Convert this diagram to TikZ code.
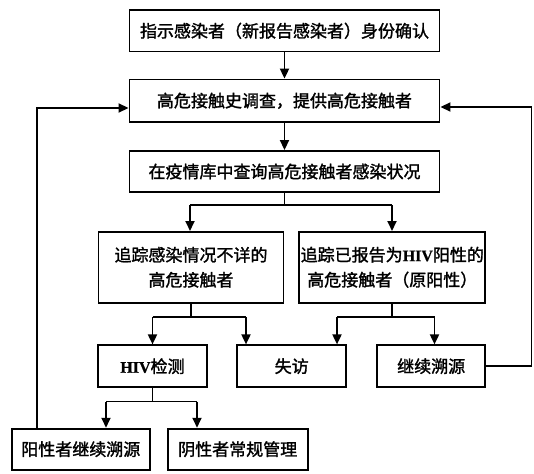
\documentclass[tikz,border=0pt]{standalone}
\usepackage{fontspec}
\usetikzlibrary{arrows.meta}
\newfontfamily\cjk{Noto Sans CJK SC}[FakeBold=1.6]
\newfontfamily\lat{Liberation Serif}[FakeBold=0.6]
\newcommand{\hiv}{{\lat\bfseries\fontsize{16}{16}\selectfont HIV}}
\tikzset{
  box/.style={draw, line width=1.9pt, rectangle, inner sep=0pt, align=center,
    font=\cjk\fontsize{17}{25}\selectfont},
  conn/.style={line width=1.8pt},
  arr/.style={line width=1.8pt, -{Triangle[length=10pt,width=9pt]}}
}
\begin{document}
\begin{tikzpicture}[x=1pt,y=-1pt]
\useasboundingbox (0,0) rectangle (534,473);
\node[box, minimum width=310pt, minimum height=41.5pt] (b1) at (284.5,30.8) {指示感染者（新报告感染者）身份确认};
\node[box, minimum width=310pt, minimum height=42.5pt] (b2) at (284.5,100.8) {高危接触史调查，提供高危接触者};
\node[box, minimum width=310pt, minimum height=41pt] (b3) at (284.5,171.5) {在疫情库中查询高危接触者感染状况};
\node[box, minimum width=185pt, minimum height=70.7pt] (b4l) at (191,267.3) {追踪感染情况不详的\\高危接触者};
\node[box, minimum width=186pt, minimum height=70.7pt] (b4r) at (392.3,267.3) {追踪已报告为\hiv 阳性的\\高危接触者（原阳性）};
\node[box, minimum width=108.4pt, minimum height=41.7pt] (b5a) at (152.5,366.2) {\hiv 检测};
\node[box, minimum width=108.7pt, minimum height=41.7pt] (b5b) at (291.7,366.2) {失访};
\node[box, minimum width=108.3pt, minimum height=41.7pt] (b5c) at (431.2,366.2) {继续溯源};
\node[box, minimum width=138.3pt, minimum height=41pt] (b6a) at (80.8,449.2) {阳性者继续溯源};
\node[box, minimum width=140pt, minimum height=41pt] (b6b) at (237.7,449.2) {阴性者常规管理};
% main chain
\draw[arr] (b1.south) -- (b2.north);
\draw[arr] (b2.south) -- (b3.north);
% split from b3
\coordinate (s3) at (284.5,205);
\coordinate (s3l) at (190,205);
\coordinate (s3r) at (392,205);
\draw[conn] (b3.south) -- (s3);
\draw[conn] (s3l) -- (s3r);
\draw[arr] (s3l) -- (s3l |- b4l.north);
\draw[arr] (s3r) -- (s3r |- b4r.north);
% split from b4l
\coordinate (s4l) at (191,317);
\coordinate (s4la) at (152.5,317);
\coordinate (s4lb) at (246,317);
\draw[conn] (b4l.south) -- (s4l);
\draw[conn] (s4la) -- (s4lb);
\draw[arr] (s4la) -- (s4la |- b5a.north);
\draw[arr] (s4lb) -- (s4lb |- b5b.north);
% split from b4r
\coordinate (s4r) at (392.3,317);
\coordinate (s4ra) at (337,317);
\coordinate (s4rb) at (434.5,317);
\draw[conn] (b4r.south) -- (s4r);
\draw[conn] (s4ra) -- (s4rb);
\draw[arr] (s4ra) -- (s4ra |- b5b.north);
\draw[arr] (s4rb) -- (s4rb |- b5c.north);
% split from b5a
\coordinate (s5) at (152.5,401.5);
\coordinate (s5a) at (106,401.5);
\coordinate (s5b) at (197,401.5);
\draw[conn] (b5a.south) -- (s5);
\draw[conn] (s5a) -- (s5b);
\draw[arr] (s5a) -- (s5a |- b6a.north);
\draw[arr] (s5b) -- (s5b |- b6b.north);
% feedback loops
\coordinate (rt) at (531.5,107);
\draw[arr] (b5c.east) -| (rt) -- (b2.east |- rt);
\coordinate (lt) at (36.7,108);
\draw[arr] (lt |- b6a.north) -- (lt) -- (b2.west |- lt);
\end{tikzpicture}
\end{document}
